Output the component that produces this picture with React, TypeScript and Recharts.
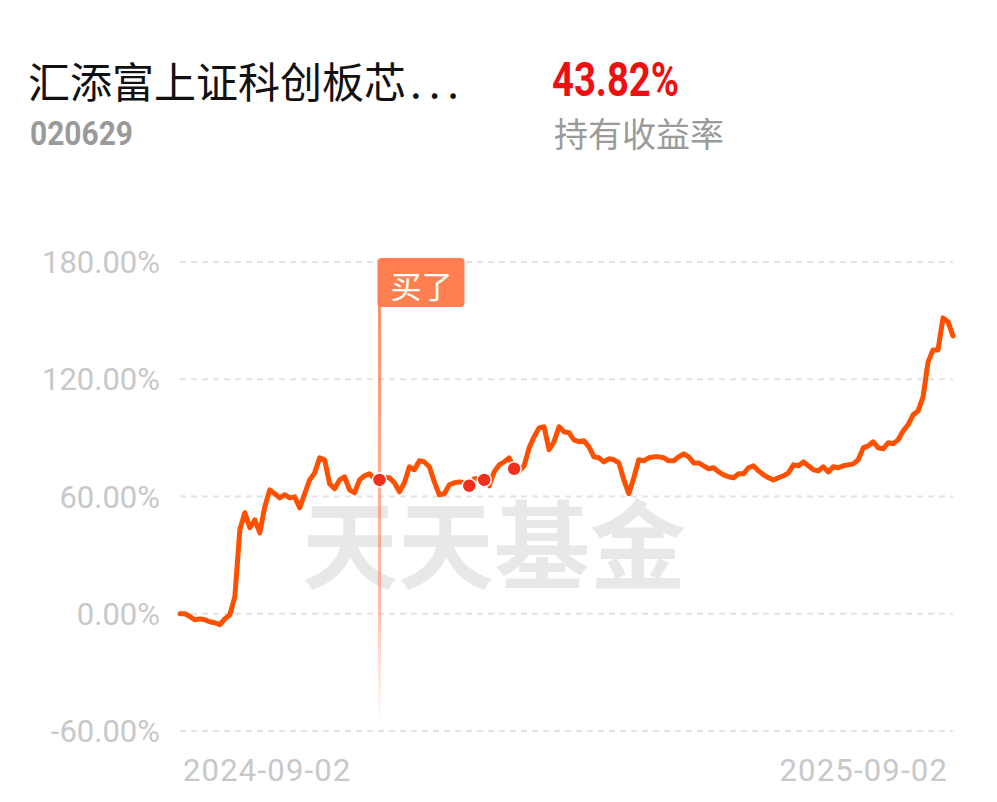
import React from "react";
import { CartesianGrid, Line, LineChart, ReferenceLine, XAxis, YAxis } from "recharts";

const FUND_NAME = "汇添富上证科创板芯";
const FUND_NAME_ELLIPSIS = "...";
const FUND_CODE = "020629";
const HOLDING_RETURN = "43.82%";
const HOLDING_RETURN_LABEL = "持有收益率";
const WATERMARK = "天天基金";
const BUY_LABEL = "买了";

const yTicks = [-60, 0, 60, 120, 180];
const xTickLabels = ["2024-09-02", "2025-09-02"];

// cumulative return (%) of the fund, one sample per step along the x axis
const returns = [
  0.0, 0.0, -1.5, -3.1, -2.6, -3.1, -4.1, -4.6, -5.6, -2.6,
  -0.5, 8.7, 43.0, 51.7, 44.0, 48.1, 41.4, 54.7, 63.4, 61.4,
  59.3, 60.9, 59.3, 59.8, 54.2, 61.4, 68.5, 72.1, 79.8, 78.8,
  66.5, 64.0, 68.5, 70.1, 63.4, 61.9, 68.5, 70.6, 71.6, 69.1,
  68.5, 69.6, 69.6, 67.0, 62.4, 67.0, 75.2, 73.7, 78.3, 77.7,
  75.2, 67.5, 60.9, 61.4, 66.0, 67.0, 67.5, 67.0, 65.5, 69.1,
  69.1, 68.5, 65.5, 72.6, 76.2, 77.7, 79.8, 74.2, 73.1, 75.7,
  84.9, 90.5, 95.1, 95.7, 83.9, 88.0, 95.7, 93.1, 92.6, 89.0,
  88.0, 88.5, 85.4, 80.3, 79.8, 77.7, 79.3, 78.8, 77.2, 68.5,
  61.4, 69.6, 78.8, 78.3, 79.8, 80.3, 80.3, 79.8, 78.3, 78.3,
  80.3, 81.8, 80.3, 77.2, 77.2, 75.7, 74.2, 74.7, 72.6, 71.1,
  70.1, 69.6, 71.6, 71.6, 74.7, 75.7, 73.1, 71.1, 69.6, 68.5,
  69.6, 70.6, 72.1, 76.2, 75.7, 77.7, 75.7, 73.7, 73.1, 75.2,
  72.6, 75.2, 74.7, 75.7, 76.2, 76.7, 78.8, 84.9, 85.9, 88.0,
  84.9, 84.4, 87.5, 87.0, 89.0, 93.6, 96.7, 101.8, 103.8, 111.0,
  128.9, 135.0, 135.0, 151.4, 149.4, 142.2,
];

// samples where a purchase was made (first one carries the flag)
const buyPoints = [40, 58, 61, 67];

const data = returns.map((v, i) => ({ i, v }));
const lastIndex = returns.length - 1;

const LINE_COLOR = "#ff5000";
const TICK_COLOR = "#c8c8c8";

function BuyFlag(props: any) {
  const vb = props.viewBox || {};
  const x = vb.x ?? 0;
  const top = vb.y ?? 0;
  const h = vb.height ?? 0;
  const lineTop = top + 42;
  const lineBottom = top + h - 8;
  return (
    <g>
      <defs>
        <linearGradient id="buyLineGrad" x1="0" y1="0" x2="0" y2="1">
          <stop offset="0%" stopColor="#ff8a64" stopOpacity={0.95} />
          <stop offset="72%" stopColor="#ff8a64" stopOpacity={0.55} />
          <stop offset="100%" stopColor="#ff8a64" stopOpacity={0} />
        </linearGradient>
      </defs>
      <rect x={x - 1.5} y={lineTop} width={3} height={lineBottom - lineTop} fill="url(#buyLineGrad)" />
      <rect x={x - 2} y={top - 4} width={87} height={49} rx={4} fill="#ff7f52" />
      <text
        x={x + 42}
        y={top + 36}
        textAnchor="middle"
        fill="#ffffff"
        fontSize={31}
        fontFamily="'Noto Sans CJK SC', sans-serif"
      >
        {BUY_LABEL}
      </text>
    </g>
  );
}

function DateTick(props: any) {
  const { x, y, payload } = props;
  const first = payload.value === 0;
  return (
    <text
      x={first ? x + 3 : x - 5}
      y={y + 50}
      textAnchor={first ? "start" : "end"}
      fill={TICK_COLOR}
      fontSize={31}
      letterSpacing={1.2}
      fontFamily="Roboto, sans-serif"
    >
      {first ? xTickLabels[0] : xTickLabels[1]}
    </text>
  );
}

function BuyDot(props: any) {
  const { cx, cy, index } = props;
  if (!buyPoints.includes(index)) return <g key={`d${index}`} />;
  return <circle key={`d${index}`} cx={cx} cy={cy} r={7} fill="#f0301c" stroke="#ffffff" strokeWidth={1.5} />;
}

export default function App() {
  return (
    <div style={{ position: "absolute", left: 0, top: 0, width: 997, height: 802, background: "#fff", overflow: "hidden" }}>
      <div
        style={{
          position: "absolute",
          left: 28,
          top: 57,
          fontSize: 42,
          lineHeight: "46px",
          color: "#111",
          fontFamily: "'Noto Sans CJK SC', sans-serif",
          whiteSpace: "nowrap",
        }}
      >
        {FUND_NAME}
        <span style={{ letterSpacing: 7, marginLeft: 4 }}>{FUND_NAME_ELLIPSIS}</span>
      </div>
      <div
        style={{
          position: "absolute",
          left: 30,
          top: 114,
          fontSize: 34,
          lineHeight: "38px",
          fontWeight: 700,
          color: "#9a9a9a",
          fontFamily: "Roboto, sans-serif",
          transform: "scaleX(0.88)",
          transformOrigin: "left center",
        }}
      >
        {FUND_CODE}
      </div>
      <div
        style={{
          position: "absolute",
          left: 552,
          top: 54,
          fontSize: 49,
          lineHeight: "52px",
          fontWeight: 700,
          color: "#ee1010",
          fontFamily: "Roboto, sans-serif",
          transform: "scaleX(0.78)",
          transformOrigin: "left center",
        }}
      >
        {HOLDING_RETURN}
      </div>
      <div
        style={{
          position: "absolute",
          left: 554,
          top: 113,
          fontSize: 34,
          lineHeight: "40px",
          color: "#9a9a9a",
          fontFamily: "'Noto Sans CJK SC', sans-serif",
          whiteSpace: "nowrap",
        }}
      >
        {HOLDING_RETURN_LABEL}
      </div>
      <div
        style={{
          position: "absolute",
          left: 302,
          top: 488,
          fontSize: 96,
          lineHeight: "104px",
          fontWeight: 700,
          color: "#e8e8e8",
          fontFamily: "'Noto Sans CJK SC', sans-serif",
          whiteSpace: "nowrap",
        }}
      >
        {WATERMARK}
      </div>
      <div style={{ position: "absolute", left: 0, top: 0 }}>
        <LineChart width={997} height={802} data={data} margin={{ top: 262, right: 44, bottom: 0, left: 0 }}>
          <CartesianGrid vertical={false} stroke="#e3e3e3" strokeWidth={2} strokeDasharray="6 5" />
          <XAxis
            dataKey="i"
            type="number"
            domain={[0, lastIndex]}
            ticks={[0, lastIndex]}
            height={71}
            axisLine={false}
            tickLine={false}
            tickSize={0}
            tickMargin={0}
            tick={<DateTick />}
          />
          <YAxis
            type="number"
            domain={[-60, 180]}
            ticks={yTicks}
            width={180}
            axisLine={false}
            tickLine={false}
            tickSize={0}
            tickMargin={20}
            tick={{ fill: TICK_COLOR, fontSize: 31, fontFamily: "Roboto, sans-serif" }}
            tickFormatter={(v: number) => `${v.toFixed(2)}%`}
          />
          <ReferenceLine x={buyPoints[0]} stroke="#ff8a64" strokeOpacity={0} label={<BuyFlag />} />
          <Line
            type="linear"
            dataKey="v"
            stroke={LINE_COLOR}
            strokeWidth={5}
            strokeLinejoin="round"
            strokeLinecap="round"
            dot={BuyDot}
            activeDot={false}
            isAnimationActive={false}
          />
        </LineChart>
      </div>
    </div>
  );
}
